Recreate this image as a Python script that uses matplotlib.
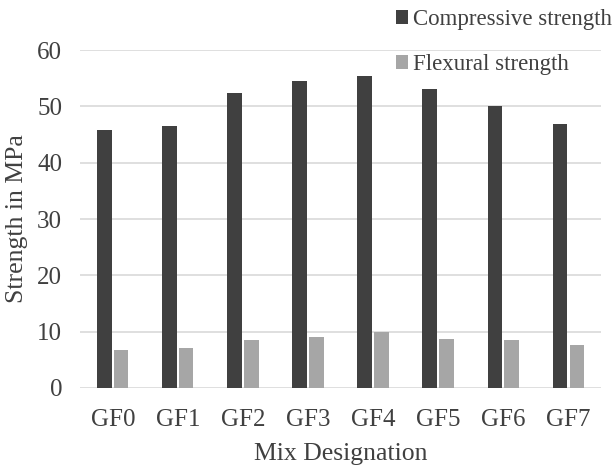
import numpy as np
import matplotlib.pyplot as plt

# Data
mixes = ['GF0', 'GF1', 'GF2', 'GF3', 'GF4', 'GF5', 'GF6', 'GF7']
compressive = [45.8, 46.5, 52.4, 54.6, 55.5, 53.1, 50.0, 46.8]
flexural = [6.7, 7.1, 8.5, 9.0, 9.9, 8.7, 8.5, 7.6]

plt.rcParams['font.family'] = ['Liberation Serif', 'DejaVu Serif']

fig = plt.figure(figsize=(6.13, 4.65), dpi=100)
ax = fig.add_axes([0.131, 0.166, 0.849, 0.726])

x = np.arange(len(mixes))
w = 0.22
gap = 0.04
ax.bar(x - (w + gap) / 2, compressive, w, color='#404040', label='Compressive strength', zorder=3)
ax.bar(x + (w + gap) / 2, flexural, w, color='#a6a6a6', label='Flexural strength', zorder=3)

ax.set_ylim(0, 60)
ax.set_yticks(np.arange(0, 61, 10))
ax.set_xlim(-0.5, len(mixes) - 0.5)
ax.set_xticks(x)
ax.set_xticklabels(mixes)
ax.yaxis.grid(True, color='#d9d9d9', linewidth=1.2, zorder=0)
for s in ['top', 'right', 'left', 'bottom']:
    ax.spines[s].set_visible(False)
ax.tick_params(axis='both', length=0, labelsize=18, colors='#404040')
ax.tick_params(axis='y', pad=13)
ax.tick_params(axis='x', pad=15)
ax.set_xlabel('Mix Designation', fontsize=18.5, color='#404040', labelpad=9)
ax.set_ylabel('Strength in MPa', fontsize=18.5, color='#404040', labelpad=7)

fig.legend(loc='upper left', bbox_to_anchor=(0.612, 1.025), frameon=False,
           fontsize=16.5, labelcolor='#404040', handlelength=0.55, handleheight=0.55,
           handletextpad=0.2, labelspacing=1.05)

fig.savefig('out.png', dpi=100)
